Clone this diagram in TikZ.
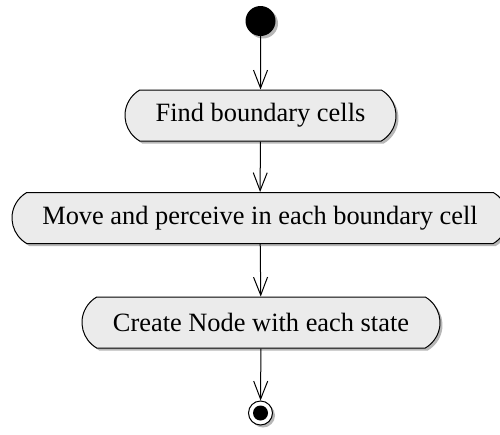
\documentclass[tikz,border=0pt]{standalone}
\usepackage{fontspec}
\setmainfont{Liberation Serif}
\usetikzlibrary{shapes.misc,shadows,arrows.meta}

\begin{document}
\begin{tikzpicture}[x=1pt,y=-1pt,
    shade/.style={drop shadow={shadow xshift=2.5pt,shadow yshift=-2.5pt,fill=black!40,opacity=0.7}},
    activity/.style={rounded rectangle,rounded rectangle arc length=120,draw,line width=1pt,
      fill=black!8,minimum height=51pt,inner sep=0pt,shade,
      font=\fontsize{26.4}{30}\selectfont},
    flow/.style={-{Straight Barb[length=18pt,width=14pt,line width=1pt]},line width=1pt}]
   \clip (0,0) rectangle (500,434);

   % start and end
   \node[circle,fill=black,minimum size=30pt,inner sep=0pt,shade] (start) at (260.5,21) {};
   \node[circle,draw,line width=1pt,fill=white,minimum size=24pt,inner sep=0pt,shade] (stop) at (260.5,413) {};
   \fill (stop) circle (7.5pt);

   % actions
   \node[activity,minimum width=271pt] (find) at (260.5,115.5) {Find boundary cells};
   \node[activity,minimum width=496pt] (move) at (260,218) {Move and perceive in each boundary cell};
   \node[activity,minimum width=358pt] (create) at (261,322.5) {Create Node with each state};

   \draw[flow] (start) -- (find);
   \draw[flow] (find) -- (move);
   \draw[flow] (move) -- (create);
   \draw[flow] (create) -- (stop);
\end{tikzpicture}
\end{document}
